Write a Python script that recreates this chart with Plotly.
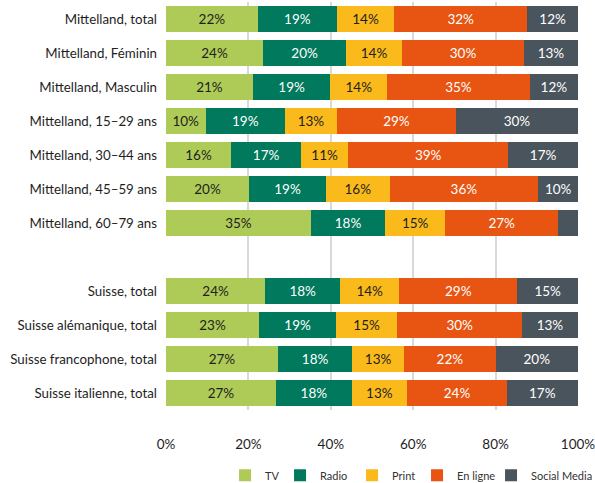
import plotly.graph_objects as go

categories = [
    "Mittelland, total", "Mittelland, Féminin", "Mittelland, Masculin",
    "Mittelland, 15–29 ans", "Mittelland, 30–44 ans", "Mittelland, 45–59 ans",
    "Mittelland, 60–79 ans", " ",
    "Suisse, total", "Suisse alémanique, total", "Suisse francophone, total",
    "Suisse italienne, total",
]

tv = [22.3, 23.6, 21.1, 9.6, 15.8, 20.2, 35.2, None, 24.1, 22.6, 27.2, 26.7]
radio = [19.2, 20.1, 18.8, 19.3, 17.0, 18.6, 18.0, None, 18.2, 18.7, 18.0, 18.4]
printed = [13.9, 13.6, 13.8, 12.6, 11.4, 15.5, 14.6, None, 14.3, 14.8, 12.6, 13.4]
online = [32.3, 29.6, 34.6, 28.9, 38.9, 36.0, 27.4, None, 28.7, 30.4, 22.2, 24.3]
social = [12.3, 13.1, 11.7, 29.6, 16.9, 9.8, 4.8, None, 14.7, 13.4, 20.0, 17.1]

x_ticks = [0, 20, 40, 60, 80, 100]
x_ticktext = ["0%", "20%", "40%", "60%", "80%", "100%"]

series = [
    ("TV", tv, "#AECB57", "#1E1E1E", 10),
    ("Radio", radio, "#00795C", "#FFFFFF", 27),
    ("Print", printed, "#FBBA1B", "#1E1E1E", 20),
    ("En ligne", online, "#E85412", "#FFFFFF", 29),
    ("Social Media", social, "#4A545C", "#FFFFFF", 62),
]

FONT = "Lato"

fig = go.Figure()
for name, vals, color, tcolor, lw in series:
    labels = ["" if (v is None or v < 8) else f"{int(v + 0.5)}%" for v in vals]
    fig.add_trace(go.Bar(
        name=name, y=categories, x=vals, orientation="h",
        marker=dict(color=color, line=dict(width=0)),
        text=labels, textposition="inside", insidetextanchor="middle",
        textangle=0, constraintext="none",
        textfont=dict(color=tcolor, size=13.5, family=FONT),
        hoverinfo="skip", legendwidth=lw,
    ))

fig.update_layout(
    width=595, height=483,
    margin=dict(l=166, r=17, t=2, b=73, autoexpand=False),
    barmode="stack", bargap=0.22,
    paper_bgcolor="white", plot_bgcolor="white",
    font=dict(family=FONT, size=13, color="#1E1E1E"),
    showlegend=True,
    legend=dict(
        orientation="h", x=0.1433, xanchor="left", y=-0.16, yanchor="middle",
        font=dict(size=11, family=FONT, color="#333333"),
        itemwidth=30, traceorder="normal",
    ),
)
fig.update_xaxes(
    range=[0, 100], tickvals=x_ticks, ticktext=x_ticktext,
    showgrid=True, gridcolor="#D9D9D9", gridwidth=2,
    zeroline=False, showline=False, ticks="", automargin=False,
    ticklabeloverflow="allow",
    ticklabelstandoff=24, tickfont=dict(size=13.5, color="#1E1E1E"),
)
fig.update_yaxes(
    type="category", categoryorder="array", categoryarray=categories,
    autorange="reversed", showgrid=False, zeroline=False, showline=False,
    automargin=False,
    ticks="", ticklabelstandoff=8, tickfont=dict(size=13.3, color="#1E1E1E"),
)

fig.write_html(
    "out.html",
    config={"displayModeBar": False},
    post_script="document.body.style.margin='0px';document.body.style.overflow='hidden';",
)
